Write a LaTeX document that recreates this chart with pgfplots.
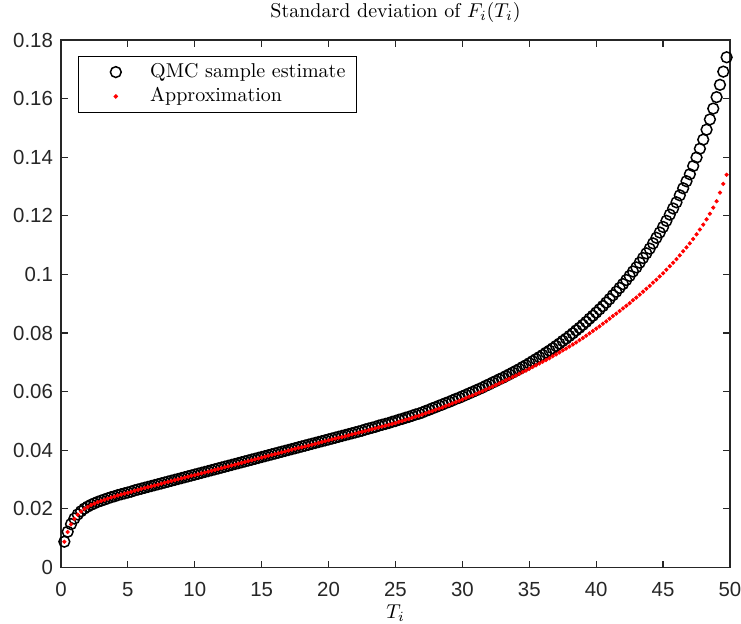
\documentclass[border=0pt]{standalone}
\usepackage{fontspec}
\usepackage{pgfplots}
\usepackage{pgfplotstable}
\pgfplotsset{compat=1.18}
\newfontfamily\ticksf{Liberation Sans}
\definecolor{axgray}{rgb}{0.15,0.15,0.15}

\pgfplotstableread{
x q r
0.25 0.0088 0.0088
0.50 0.0122 0.0121
0.75 0.0148 0.0147
1.00 0.0167 0.0166
1.25 0.0181 0.0180
1.50 0.0192 0.0191
1.75 0.0201 0.0200
2.00 0.0208 0.0207
2.25 0.0214 0.0213
2.50 0.0219 0.0218
2.75 0.0224 0.0223
3.00 0.0228 0.0227
3.25 0.0232 0.0231
3.50 0.0236 0.0235
3.75 0.0240 0.0239
4.00 0.0243 0.0242
4.25 0.0247 0.0246
4.50 0.0250 0.0249
4.75 0.0253 0.0252
5.00 0.0256 0.0255
5.25 0.0259 0.0258
5.50 0.0263 0.0262
5.75 0.0266 0.0265
6.00 0.0269 0.0268
6.25 0.0272 0.0271
6.50 0.0275 0.0274
6.75 0.0278 0.0277
7.00 0.0281 0.0280
7.25 0.0284 0.0283
7.50 0.0287 0.0286
7.75 0.0290 0.0289
8.00 0.0293 0.0292
8.25 0.0296 0.0295
8.50 0.0299 0.0298
8.75 0.0302 0.0301
9.00 0.0305 0.0304
9.25 0.0308 0.0307
9.50 0.0311 0.0310
9.75 0.0314 0.0313
10.00 0.0317 0.0315
10.25 0.0320 0.0318
10.50 0.0323 0.0321
10.75 0.0326 0.0324
11.00 0.0329 0.0327
11.25 0.0332 0.0330
11.50 0.0335 0.0333
11.75 0.0338 0.0336
12.00 0.0341 0.0339
12.25 0.0344 0.0342
12.50 0.0347 0.0345
12.75 0.0350 0.0348
13.00 0.0353 0.0351
13.25 0.0356 0.0354
13.50 0.0359 0.0357
13.75 0.0362 0.0360
14.00 0.0365 0.0363
14.25 0.0368 0.0366
14.50 0.0371 0.0369
14.75 0.0374 0.0372
15.00 0.0377 0.0375
15.25 0.0380 0.0378
15.50 0.0383 0.0381
15.75 0.0386 0.0384
16.00 0.0389 0.0387
16.25 0.0392 0.0390
16.50 0.0395 0.0393
16.75 0.0398 0.0396
17.00 0.0401 0.0399
17.25 0.0404 0.0402
17.50 0.0407 0.0405
17.75 0.0410 0.0408
18.00 0.0413 0.0410
18.25 0.0416 0.0413
18.50 0.0419 0.0416
18.75 0.0422 0.0419
19.00 0.0425 0.0422
19.25 0.0428 0.0425
19.50 0.0431 0.0428
19.75 0.0434 0.0431
20.00 0.0437 0.0434
20.25 0.0440 0.0437
20.50 0.0443 0.0440
20.75 0.0446 0.0443
21.00 0.0449 0.0445
21.25 0.0452 0.0448
21.50 0.0455 0.0451
21.75 0.0458 0.0454
22.00 0.0461 0.0457
22.25 0.0464 0.0460
22.50 0.0467 0.0463
22.75 0.0471 0.0466
23.00 0.0474 0.0469
23.25 0.0477 0.0472
23.50 0.0480 0.0475
23.75 0.0484 0.0478
24.00 0.0487 0.0481
24.25 0.0490 0.0484
24.50 0.0493 0.0487
24.75 0.0497 0.0490
25.00 0.0500 0.0493
25.25 0.0504 0.0497
25.50 0.0507 0.0500
25.75 0.0511 0.0504
26.00 0.0514 0.0507
26.25 0.0518 0.0511
26.50 0.0522 0.0515
26.75 0.0525 0.0518
27.00 0.0529 0.0522
27.25 0.0534 0.0526
27.50 0.0538 0.0530
27.75 0.0543 0.0534
28.00 0.0547 0.0538
28.25 0.0552 0.0542
28.50 0.0556 0.0546
28.75 0.0561 0.0551
29.00 0.0565 0.0555
29.25 0.0570 0.0560
29.50 0.0575 0.0564
29.75 0.0579 0.0569
30.00 0.0584 0.0573
30.25 0.0589 0.0578
30.50 0.0594 0.0583
30.75 0.0599 0.0587
31.00 0.0604 0.0592
31.25 0.0609 0.0597
31.50 0.0614 0.0602
31.75 0.0620 0.0607
32.00 0.0625 0.0612
32.25 0.0631 0.0617
32.50 0.0636 0.0623
32.75 0.0642 0.0628
33.00 0.0647 0.0633
33.25 0.0653 0.0639
33.50 0.0659 0.0644
33.75 0.0665 0.0650
34.00 0.0671 0.0655
34.25 0.0677 0.0661
34.50 0.0684 0.0667
34.75 0.0690 0.0672
35.00 0.0697 0.0678
35.25 0.0704 0.0684
35.50 0.0711 0.0690
35.75 0.0718 0.0696
36.00 0.0725 0.0702
36.25 0.0733 0.0708
36.50 0.0740 0.0714
36.75 0.0748 0.0721
37.00 0.0756 0.0727
37.25 0.0764 0.0734
37.50 0.0773 0.0741
37.75 0.0781 0.0747
38.00 0.0790 0.0754
38.25 0.0799 0.0761
38.50 0.0809 0.0768
38.75 0.0818 0.0776
39.00 0.0828 0.0783
39.25 0.0838 0.0791
39.50 0.0849 0.0799
39.75 0.0859 0.0807
40.00 0.0870 0.0815
40.25 0.0881 0.0823
40.50 0.0892 0.0832
40.75 0.0904 0.0840
41.00 0.0916 0.0849
41.25 0.0929 0.0858
41.50 0.0941 0.0866
41.75 0.0954 0.0875
42.00 0.0967 0.0884
42.25 0.0981 0.0893
42.50 0.0995 0.0902
42.75 0.1010 0.0912
43.00 0.1024 0.0921
43.25 0.1040 0.0931
43.50 0.1056 0.0941
43.75 0.1072 0.0951
44.00 0.1088 0.0961
44.25 0.1106 0.0972
44.50 0.1125 0.0982
44.75 0.1143 0.0993
45.00 0.1162 0.1004
45.25 0.1183 0.1016
45.50 0.1204 0.1028
45.75 0.1225 0.1040
46.00 0.1246 0.1052
46.25 0.1270 0.1065
46.50 0.1294 0.1079
46.75 0.1318 0.1092
47.00 0.1342 0.1106
47.25 0.1370 0.1121
47.50 0.1399 0.1137
47.75 0.1429 0.1153
48.00 0.1460 0.1170
48.25 0.1494 0.1188
48.50 0.1529 0.1207
48.75 0.1566 0.1228
49.00 0.1605 0.1250
49.25 0.1647 0.1279
49.50 0.1692 0.1309
49.75 0.1741 0.1340
}\datatable

\begin{document}
\begin{tikzpicture}
\path[use as bounding box] (-30.5pt,-28.25pt) rectangle (340pt,283.75pt);
\begin{axis}[
  scale only axis, width=334.5pt, height=263.75pt,
  xmin=0, xmax=50, ymin=0, ymax=0.18,
  xtick={0,5,10,15,20,25,30,35,40,45,50},
  ytick={0,0.02,0.04,0.06,0.08,0.1,0.12,0.14,0.16,0.18},
  scaled y ticks=false,
  yticklabel style={/pgf/number format/fixed, /pgf/number format/precision=2, xshift=-0.5pt},
  xticklabel style={yshift=-4pt},
  /pgf/number format/assume math mode=true,
  ticklabel style={font=\ticksf\fontsize{10.2}{11}\selectfont, text=axgray},
  tick align=inside, major tick length=3.3pt,
  axis line style={axgray, line width=0.6pt},
  every tick/.style={axgray, line width=0.6pt},
  title={Standard deviation of $F_i(T_i)$},
  title style={yshift=-1pt},
  xlabel={$T_i$},
  xlabel style={yshift=3pt},
  clip=false,
  legend cell align=left,
  legend style={at={(0.0259,0.9697)}, anchor=north west, draw=black, line width=0.5pt,
    inner xsep=1.5pt, inner ysep=1.7pt, column sep=0pt,
    nodes={inner xsep=1pt, inner ysep=1.6pt, text height=7pt, text depth=2pt},
    font=\fontsize{10}{12}\selectfont},
  legend image code/.code={\path[draw=none, fill=none] (0pt,-3pt) rectangle (33.2pt,3pt); \draw[#1] plot coordinates {(17pt,0pt)};},
]
\addplot[only marks, mark=o, mark size=2.7pt, mark options={black, line width=0.75pt}] table[x=x, y=q] {\datatable};
\addlegendentry{QMC sample estimate\kern3pt}
\addplot[only marks, mark=*, mark size=0.85pt, mark options={red, fill=red, draw=none}] table[x=x, y=r] {\datatable};
\addlegendentry{Approximation}
\end{axis}
\end{tikzpicture}
\end{document}
